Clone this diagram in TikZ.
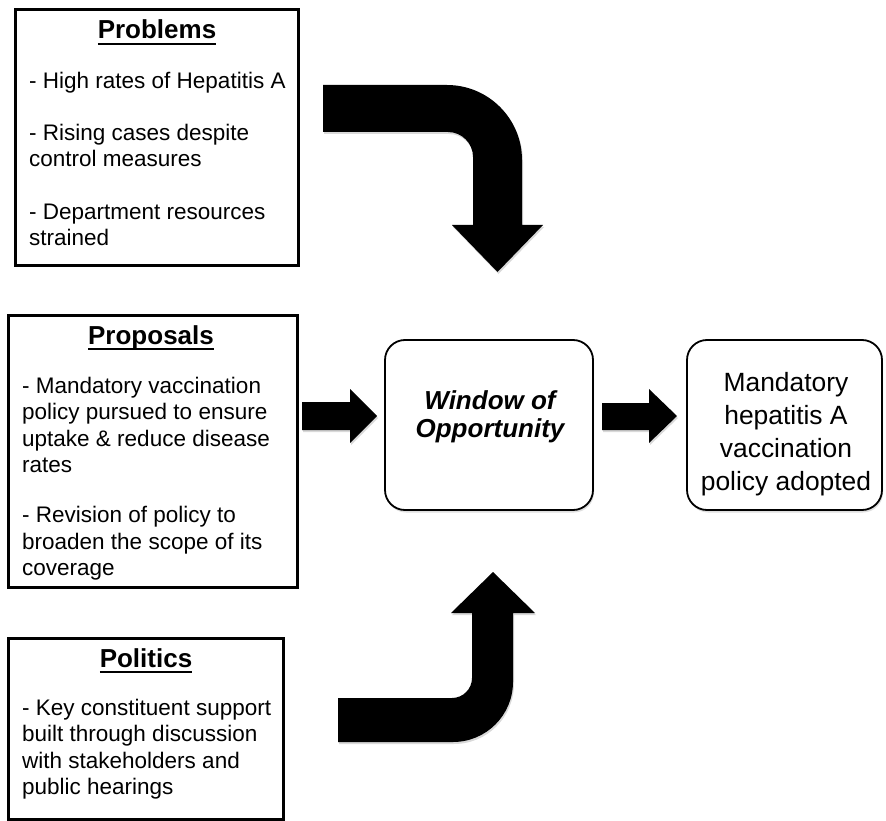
\documentclass[tikz,border=0pt]{standalone}
\usepackage{fontspec}
\setmainfont{Liberation Sans}
\usetikzlibrary{shadows}
\newcommand\myul[1]{\setbox0\hbox{#1}\rlap{\rule[-6pt]{\wd0}{2pt}}\box0}
\tikzset{
  sqbox/.style={draw=black, line width=3pt, rectangle, inner sep=0pt},
  rbox/.style={draw=black, line width=1.8pt, rectangle, rounded corners=20pt, fill=white, inner sep=0pt,
    drop shadow={shadow xshift=1pt, shadow yshift=-2.5pt, opacity=0.25}},
  ttl/.style={font=\fontsize{26}{30}\selectfont\bfseries, inner sep=0pt, anchor=base},
  body/.style={font=\fontsize{22.5}{26.4}\selectfont, align=left, inner sep=0pt, anchor=north west},
  blk/.style={fill=black, drop shadow={shadow xshift=1pt, shadow yshift=-2pt, opacity=0.3}},
}
\begin{document}
\begin{tikzpicture}[x=1pt, y=-1pt]
\useasboundingbox (0,0) rectangle (886,821);

% boxes
\node[sqbox, minimum width=283pt, minimum height=255pt] (prob) at (156.5,137.5) {};
\node[sqbox, minimum width=289pt, minimum height=272pt] (prop) at (152.5,451) {};
\node[sqbox, minimum width=275pt, minimum height=181pt] (poli) at (145.5,728.5) {};
\node[rbox, minimum width=208pt, minimum height=170pt] (win) at (489,425) {};
\node[rbox, minimum width=195pt, minimum height=170pt] (res) at (784.5,425) {};

% titles
\node[ttl] (probt) at (157,39) {\myul{Problems}};
\node[ttl] (propt) at (151,344) {\myul{Proposals}};
\node[ttl] (polit) at (146,667) {\myul{Politics}};

% body texts
\node[body] (probb) at (29,71.5) {- High rates of Hepatitis A\\[26pt]
- Rising cases despite\\control measures\\[26pt]
- Department resources\\strained};
\node[body] (propb) at (22,377) {- Mandatory vaccination\\policy pursued to ensure\\uptake \& reduce disease\\rates\\[23.5pt]
- Revision of policy to\\broaden the scope of its\\coverage};
\node[body] (polib) at (22,699) {- Key constituent support\\built through discussion\\with stakeholders and\\public hearings};

% centre texts
\node[font=\fontsize{26}{28}\selectfont\bfseries\itshape, align=center, inner sep=0pt] (wint) at (490,416.5) {Window of\\Opportunity};
\node[font=\fontsize{26.4}{33}\selectfont, align=center, inner sep=0pt] (rest) at (786,434.5) {Mandatory\\hepatitis A\\vaccination\\policy adopted};

% block arrows
\coordinate (a1s) at (323,85);
\fill[blk] (a1s) -- (447,85) .. controls (488.4,85) and (522,118.6) .. (522,160)
  -- (522,225) -- (543,225) -- (497.5,272) -- (452,225) -- (473,225) -- (473,157)
  .. controls (473,143.2) and (461.8,132) .. (448,132) -- (323,132) -- cycle;

\coordinate (a2s) at (338,742);
\fill[blk] (a2s) -- (453,742) .. controls (486.1,742) and (513,715.1) .. (513,682)
  -- (513,613) -- (535,613) -- (493,572) -- (451,613) -- (472,613) -- (472,678)
  .. controls (472,689) and (463,698) .. (452,698) -- (338,698) -- cycle;

\coordinate (a3s) at (302,402);
\fill[blk] (a3s) -- (350,402) -- (350,389) -- (377,416) -- (350,443) -- (350,430) -- (302,430) -- cycle;

\coordinate (a4s) at (602,403);
\fill[blk] (a4s) -- (649,403) -- (649,389) -- (677,416) -- (649,443) -- (649,430) -- (602,430) -- cycle;
\end{tikzpicture}
\end{document}
